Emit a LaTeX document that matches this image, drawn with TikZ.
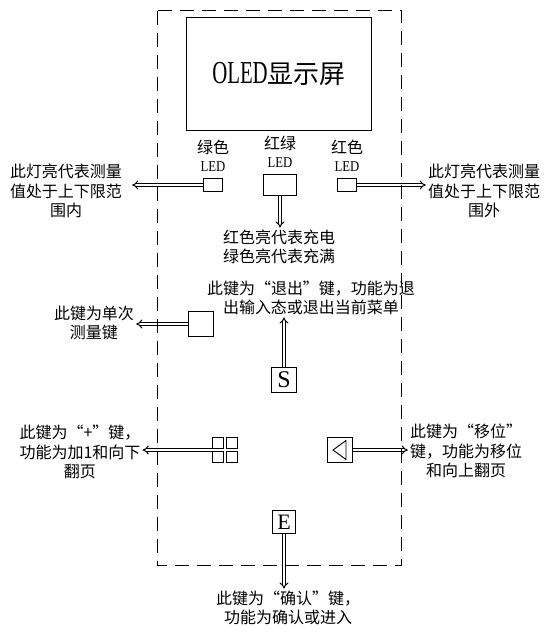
\documentclass[tikz,border=0pt]{standalone}
\usepackage{fontspec}
\setmainfont{Liberation Serif}
\newfontfamily\cjk{Noto Sans CJK SC}
\usetikzlibrary{arrows.meta,positioning}

\tikzset{
  panel/.style={draw, line width=0.9pt, dash pattern=on 14pt off 8pt},
  keybox/.style={draw, line width=0.9pt, minimum width=25pt, minimum height=25pt, inner sep=0pt},
  ledbox/.style={draw, line width=0.9pt, inner sep=0pt},
  note/.style={font=\cjk\fontsize{16}{19.5}\selectfont, align=center, inner sep=2pt},
  colour/.style={font=\cjk\fontsize{16}{16}\selectfont, inner sep=0pt},
  tag/.style={font=\fontsize{15}{15}\selectfont, inner sep=0pt},
  pointer/.style={double, double distance=2pt, line width=1pt, -{Implies}},
}

\begin{document}
\begin{tikzpicture}[x=1pt, y=-1pt]
\useasboundingbox (0,0) rectangle (554,633);
% display
\node[draw, line width=0.9pt, minimum width=185pt, minimum height=113pt] (oled) at (279,74)
  {\scalebox{0.65}[1]{\fontsize{32}{32}\selectfont OLED}{\cjk\fontsize{26}{26}\selectfont 显示屏}};
% leds
\node[ledbox, minimum width=19pt, minimum height=13pt] (ledG) at (213,185) {};
\node[ledbox, minimum width=33pt, minimum height=21pt] (ledRG) at (280,185) {};
\node[ledbox, minimum width=19pt, minimum height=13pt] (ledR) at (347,185) {};
\node[tag, above=6pt of ledG] (ledGtag) {\scalebox{0.85}[1]{LED}};
\node[tag, above=6pt of ledRG] (ledRGtag) {\scalebox{0.85}[1]{LED}};
\node[tag, above=6pt of ledR] (ledRtag) {\scalebox{0.85}[1]{LED}};
\node[colour, above=7pt of ledGtag] (ledGname) {绿色};
\node[colour, above=7pt of ledRGtag] (ledRGname) {红绿};
\node[colour, above=7pt of ledRtag] (ledRname) {红色};
% keys
\node[keybox] (keyMeas) at (201,324) {};
\node[keybox] (keyS) at (284,380) {\fontsize{24}{24}\selectfont S};
\node[minimum width=26pt, minimum height=25pt, inner sep=0pt] (keyP) at (225,450) {};
\foreach \dx in {-1,1}
  \foreach \dy in {-1,1}
    \node[keybox, minimum width=11pt, minimum height=11pt] at ([shift={(\dx*7pt,\dy*7pt)}]keyP.center) {};
\node[keybox] (keyM) at (340,450) {};
\draw[line width=0.9pt] ([xshift=-7pt]keyM.center) -- ([shift={(6pt,9.5pt)}]keyM.center)
  -- ([shift={(6pt,-9.5pt)}]keyM.center) -- cycle;
\node[keybox, minimum width=23pt, minimum height=23pt] (keyE) at (284,522) {\fontsize{22}{22}\selectfont E};
% notes
\node[note] (noteIn) at (66,191) {此灯亮代表测量\\值处于上下限范\\围内};
\node[note] (noteOut) at (484,191) {此灯亮代表测量\\值处于上下限范\\围外};
\node[note] (noteCharge) at (279,247) {红色亮代表充电\\绿色亮代表充满};
\node[note] (noteExit) at (311,298) {此键为“退出”键，功能为退\\出输入态或退出当前菜单};
\node[note] (noteMeas) at (94,323) {此键为单次\\测量键};
\node[note] (notePlus) at (80,452) {此键为“+”键，\\功能为加1和向下\\翻页};
\node[note] (noteMove) at (466,451) {此键为“移位”\\键，功能为移位\\和向上翻页};
\node[note] (noteEnter) at (288,608) {此键为“确认”键，\\功能为确认或进入};
% arrows
\draw[pointer] (ledG.west) -- ([xshift=8pt]ledG.west -| noteIn.east);
\draw[pointer] (ledR.east) -- (ledR.east -| noteOut.west);
\draw[pointer] (ledRG.south) -- (ledRG.south |- noteCharge.north);
\draw[pointer] (keyS.north) -- (keyS.north |- noteExit.south);
\draw[pointer] (keyMeas.west) -- (keyMeas.west -| noteMeas.east);
\draw[pointer] (keyP.west) -- (keyP.west -| notePlus.east);
\draw[pointer] (keyM.east) -- (keyM.east -| noteMove.west);
\draw[pointer] (keyE.south) -- (keyE.south |- noteEnter.north);
% housing
\draw[panel] (157.5,10.5) rectangle (401.5,565.5);
\end{tikzpicture}
\end{document}
